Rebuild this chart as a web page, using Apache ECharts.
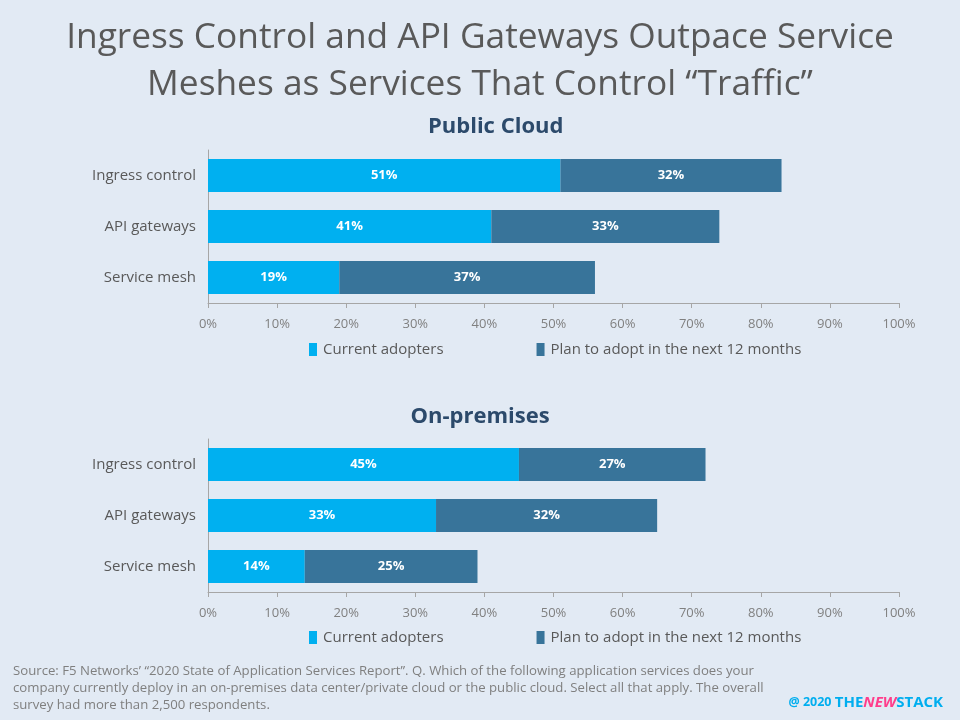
<!DOCTYPE html>
<html><head><meta charset="utf-8">
<script src="https://cdn.jsdelivr.net/npm/echarts@6/dist/echarts.min.js"></script>
<style>html,body{margin:0;padding:0;background:#e2eaf4;}#c{width:960px;height:720px;}</style>
</head><body><div id="c"></div>
<script>
const categories = ['Ingress control', 'API gateways', 'Service mesh'];
const cloudCurrent = [51, 41, 19];
const cloudPlan = [32, 33, 37];
const premCurrent = [45, 33, 14];
const premPlan = [27, 32, 25];
const seriesNames = ['Current adopters', 'Plan to adopt in the next 12 months'];
const xTicks = [0, 10, 20, 30, 40, 50, 60, 70, 80, 90, 100];

const FONT = '"Open Sans", "Noto Sans", sans-serif';
const C1 = '#00b0f0', C2 = '#38749a';
const chart = echarts.init(document.getElementById('c'));

function xAxis(gi) {
  return {
    gridIndex: gi, type: 'value', min: xTicks[0], max: xTicks[xTicks.length - 1], interval: xTicks[1] - xTicks[0],
    axisLine: {show: true, lineStyle: {color: '#a6a6a6', width: 1}},
    axisTick: {show: true, length: 5, lineStyle: {color: '#a6a6a6'}},
    splitLine: {show: false},
    axisLabel: {formatter: v => v + '%', color: '#808080', fontFamily: FONT, fontSize: 13, margin: 15}
  };
}
function yAxis(gi) {
  return {
    gridIndex: gi, type: 'category', data: categories, inverse: true,
    axisLine: {show: true, lineStyle: {color: '#a6a6a6', width: 1}},
    axisTick: {show: false},
    axisLabel: {color: '#595959', fontFamily: FONT, fontSize: 15, margin: 12}
  };
}
function bar(name, data, color, gi) {
  return {
    name: name, type: 'bar', stack: 's' + gi, xAxisIndex: gi, yAxisIndex: gi,
    data: data, barWidth: 33, itemStyle: {color: color},
    label: {show: true, position: 'inside', formatter: p => p.value + '%',
      color: '#fff', fontWeight: 'bold', fontFamily: FONT, fontSize: 13}
  };
}
function legend(top) {
  return {
    top: top, left: 309, data: seriesNames, itemWidth: 8, itemHeight: 13, itemGap: 93,
    icon: 'rect', selectedMode: false, padding: 0,
    textStyle: {color: '#595959', fontFamily: FONT, fontSize: 15, padding: [0, 0, 0, 1]}
  };
}

chart.setOption({
  backgroundColor: '#e2eaf4',
  animation: false,
  title: [
    {text: 'Ingress Control and API Gateways Outpace Service\nMeshes as Services That Control \u201cTraffic\u201d',
     left: 'center', top: 9,
     textStyle: {color: '#595959', fontFamily: FONT, fontWeight: 'normal', fontSize: 35.3, lineHeight: 47}},
    {text: 'Public Cloud', left: 423, top: 111,
     textStyle: {color: '#2c4a6b', fontFamily: FONT, fontWeight: 'bold', fontSize: 22}},
    {text: 'On-premises', left: 'center', top: 401,
     textStyle: {color: '#2c4a6b', fontFamily: FONT, fontWeight: 'bold', fontSize: 22}},
    {text: 'Source: F5 Networks\u2019 \u201c2020 State of Application Services Report\u201d. Q. Which of the following application services does your\ncompany currently deploy in an on-premises data center/private cloud or the public cloud. Select all that apply. The overall\nsurvey had more than 2,500 respondents.',
     left: 8, top: 658, padding: [5, 5, 5, 5],
     textStyle: {color: '#7f7f7f', fontFamily: FONT, fontWeight: 'normal', fontSize: 13.2, lineHeight: 17}},
    {text: '{a|@ 2020 }{b|THE}{c|NEW}{b|STACK}', right: 12, top: 690,
     textStyle: {rich: {
       a: {color: '#00aeef', fontFamily: FONT, fontSize: 12.5},
       b: {color: '#00aeef', fontFamily: FONT, fontSize: 15, fontWeight: 'bold'},
       c: {color: '#ff3d8b', fontFamily: FONT, fontSize: 15, fontWeight: 'bold', fontStyle: 'italic'}
     }}}
  ],
  legend: [legend(342), legend(630)],
  grid: [
    {left: 208, right: 61, top: 150, height: 153},
    {left: 208, right: 61, top: 439, height: 153}
  ],
  xAxis: [xAxis(0), xAxis(1)],
  yAxis: [yAxis(0), yAxis(1)],
  series: [
    bar(seriesNames[0], cloudCurrent, C1, 0),
    bar(seriesNames[1], cloudPlan, C2, 0),
    bar(seriesNames[0], premCurrent, C1, 1),
    bar(seriesNames[1], premPlan, C2, 1)
  ]
});
</script></body></html>
